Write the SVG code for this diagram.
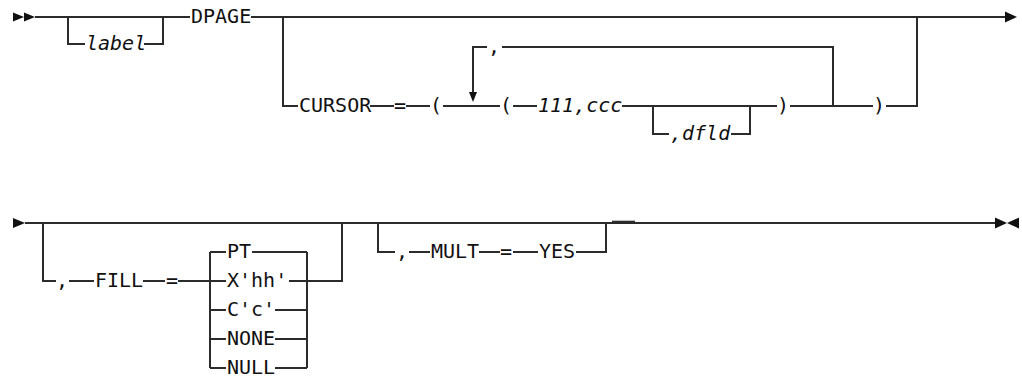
<svg xmlns="http://www.w3.org/2000/svg" width="1022" height="379" viewBox="0 0 1022 379">
<style>
.ln{fill:none;stroke:#2b2b2b;stroke-width:2;stroke-linecap:butt;stroke-linejoin:miter}
.t{font-family:"DejaVu Sans Mono","Liberation Mono",monospace;font-size:20px;fill:#111}
.i{font-style:italic}
.m{fill:#111;stroke:none}
</style>
<rect width="1022" height="379" fill="#fff"/>
<g id="connectors">
  <path class="ln" d="M35 17H190M251 17H1005"/>
  <path class="ln" d="M68 17V44H85M144 44H163V17"/>
  <path class="ln" d="M283 17V106H298M370 106H394M406 106H430M443 106H500M513 106H537M622 106H777M790 106H873M886 106H917V17"/>
  <path class="ln" d="M653 106V134H669M731 134H750V106"/>
  <path class="ln" d="M473 93V47H487M502 47H833V106"/>
  <path class="ln" d="M25 223H995"/>
  <path class="ln" d="M612 222H635" style="stroke-width:2.6"/>
  <path class="ln" d="M43 223V281H56M69 281H94M143 281H165M178 281H210M289 281H342V223"/>
  <path class="ln" d="M210 252V368M307 252V368"/>
  <path class="ln" d="M210 252H226M252 252H307"/>
  <path class="ln" d="M210 281H226"/>
  <path class="ln" d="M210 310H226M275 310H307"/>
  <path class="ln" d="M210 339H226M275 339H307"/>
  <path class="ln" d="M210 368H226M275 368H307"/>
  <path class="ln" d="M378 223V252H395M409 252H430M479 252H500M513 252H538M576 252H606V223"/>
  <path class="m" d="M13 12.5L24 17L13 21.5ZM24 12.5L35 17L24 21.5Z"/>
  <path class="m" d="M1005 11.5L1017 17L1005 22.5Z"/>
  <path class="m" d="M469 92H477L473 102Z"/>
  <path class="m" d="M13 218L25 223L13 228Z"/>
  <path class="m" d="M995 217.5L1007 223L995 228.5ZM1019 217.5L1007 223L1019 228.5Z"/>
</g>
<g id="n-label"><text class="t i" x="86" y="50">label</text></g>
<g id="n-dpage"><text class="t" x="191" y="23">DPAGE</text></g>
<g id="n-cursor"><text class="t" x="299" y="112">CURSOR</text></g>
<g id="n-eq1"><text class="t" x="394" y="112">=</text></g>
<g id="n-lp1"><text class="t" x="430" y="112">(</text></g>
<g id="n-comma-loop"><text class="t" x="488" y="53">,</text></g>
<g id="n-lp2"><text class="t" x="500" y="112">(</text></g>
<g id="n-lllccc"><text class="t i" x="538" y="112">111,ccc</text></g>
<g id="n-dfld"><text class="t i" x="670" y="140">,dfld</text></g>
<g id="n-rp1"><text class="t" x="777" y="112">)</text></g>
<g id="n-rp2"><text class="t" x="873" y="112">)</text></g>
<g id="n-comma-fill"><text class="t" x="56" y="287">,</text></g>
<g id="n-fill"><text class="t" x="95" y="287">FILL</text></g>
<g id="n-eq2"><text class="t" x="166" y="287">=</text></g>
<g id="n-pt"><text class="t" x="227" y="258">PT</text></g>
<g id="n-xhh"><text class="t" x="227" y="287">X'hh'</text></g>
<g id="n-cc"><text class="t" x="227" y="316">C'c'</text></g>
<g id="n-none"><text class="t" x="227" y="345">NONE</text></g>
<g id="n-null"><text class="t" x="227" y="374">NULL</text></g>
<g id="n-comma-mult"><text class="t" x="396" y="258">,</text></g>
<g id="n-mult"><text class="t" x="431" y="258">MULT</text></g>
<g id="n-eq3"><text class="t" x="500" y="258">=</text></g>
<g id="n-yes"><text class="t" x="539" y="258">YES</text></g>
</svg>
